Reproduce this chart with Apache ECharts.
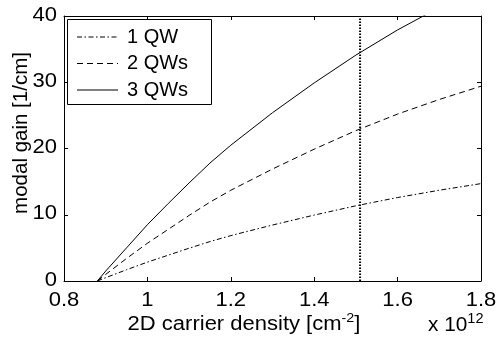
<!DOCTYPE html>
<html>
<head>
<meta charset="utf-8">
<script src="https://cdn.jsdelivr.net/npm/echarts@6/dist/echarts.min.js"></script>
<style>
  html, body { margin: 0; padding: 0; background: #fff; }
  #chart { width: 496px; height: 337px; }
</style>
</head>
<body>
<div id="chart"></div>
<script>
// 2D carrier density (units of 1e12 cm^-2)
const density = [0.88, 0.9, 0.95, 1.0, 1.05, 1.1, 1.15, 1.2, 1.3, 1.4, 1.5, 1.6, 1.7, 1.8];
// modal gain [1/cm] for 1, 2 and 3 quantum wells
const gain1QW = [0, 0.5, 1.7, 2.85, 3.9, 4.95, 5.95, 6.85, 8.45, 9.95, 11.35, 12.6, 13.7, 14.7];
const gain2QW = [0, 1.0, 3.4, 5.7, 7.8, 9.9, 11.9, 13.7, 16.9, 19.9, 22.7, 25.2, 27.4, 29.4];
const gain3QW = [0, 1.5, 5.0, 8.5, 11.7, 14.8, 17.8, 20.5, 25.4, 29.9, 34.1, 37.9, 41.3, 44.4];
// operating density marker
const markerDensity = 1.51;
const xTicks = [0.8, 1, 1.2, 1.4, 1.6, 1.8];
const yTicks = [0, 10, 20, 30, 40];
const seriesNames = ['1 QW', '2 QWs', '3 QWs'];

const FONT = 'Liberation Sans, Arial, Helvetica, sans-serif';
const FS = 20;
const WIDE = 1.1;   // horizontal stretch of the axis lettering

const DASH_1 = [5, 2.5, 1.5, 2.5];
const DASH_2 = [6, 4];
const DOTS = [1.5, 1.5];

const pairs = (xs, ys) => xs.map((x, i) => [x, ys[i]]);

const chart = echarts.init(document.getElementById('chart'), null, { renderer: 'canvas' });

const axisCommon = {
  type: 'value',
  axisLine: { show: true, onZero: false, lineStyle: { color: '#000', width: 1 } },
  axisTick: { show: true, inside: true, length: 4, lineStyle: { color: '#000' } },
  axisLabel: { show: false },
  splitLine: { show: false }
};
const xAxisBase = Object.assign({}, axisCommon, { min: xTicks[0], max: xTicks[xTicks.length - 1], interval: 0.2 });
const yAxisBase = Object.assign({}, axisCommon, { min: yTicks[0], max: yTicks[yTicks.length - 1], interval: 10 });

const lineSeries = (name, ys, dash) => ({
  name, type: 'line', data: pairs(density, ys),
  showSymbol: false, symbol: 'none', smooth: false,
  clip: true, animation: false,
  lineStyle: { color: '#000', width: 1, type: dash }
});

chart.setOption({
  animation: false,
  backgroundColor: '#fff',
  grid: { left: 64, right: 15, top: 16, bottom: 56 },
  xAxis: [
    Object.assign({}, xAxisBase, { position: 'bottom' }),
    Object.assign({}, xAxisBase, { position: 'top' })
  ],
  yAxis: [
    Object.assign({}, yAxisBase, { position: 'left' }),
    Object.assign({}, yAxisBase, { position: 'right' })
  ],
  series: [
    lineSeries(seriesNames[0], gain1QW, DASH_1),
    lineSeries(seriesNames[1], gain2QW, DASH_2),
    lineSeries(seriesNames[2], gain3QW, 'solid'),
    {
      name: 'marker', type: 'line', symbol: 'none', animation: false,
      data: [[markerDensity, yTicks[0]], [markerDensity, yTicks[yTicks.length - 1]]],
      lineStyle: { color: '#000', width: 2, type: DOTS }
    }
  ]
});

// Lettering: tick labels placed through the axis scales, titles, exponent, legend
const txt = (x, y, text, align, extra) => Object.assign({
  type: 'text', x, y, scaleX: WIDE, z: 10,
  style: { text, align, verticalAlign: 'middle', fontSize: FS, fontFamily: FONT, fill: '#000' }
}, extra || {});

const gfx = [];
xTicks.forEach(v => {
  const p = chart.convertToPixel({ xAxisIndex: 0, yAxisIndex: 0 }, [v, yTicks[0]]);
  gfx.push(txt(p[0], p[1] + 19, String(v), 'center'));
});
yTicks.forEach(v => {
  const p = chart.convertToPixel({ xAxisIndex: 0, yAxisIndex: 0 }, [xTicks[0], v]);
  gfx.push(txt(p[0] - 7, p[1] - 1, String(v), 'right'));
});

const rect = chart.getModel().getComponent('grid').coordinateSystem.getRect();
const base = { fontSize: FS, fontFamily: FONT, fill: '#000' };

gfx.push({
  type: 'text', x: 244, y: rect.y + rect.height + 43, scaleX: WIDE,
  style: {
    text: '{b|2D carrier density [cm}{s|-2}{b|]}', align: 'center', verticalAlign: 'middle',
    rich: { b: base, s: { fontSize: 13, fontFamily: FONT, fill: '#000', padding: [0, 0, 11, 0] } }
  }
});
gfx.push({
  type: 'text', x: 21, y: 133, rotation: Math.PI / 2,
  style: {
    text: 'modal gain [1/cm]', align: 'center', verticalAlign: 'middle',
    fontSize: 20.5, fontFamily: FONT, fill: '#000'
  }
});
gfx.push({
  type: 'text', x: 428, y: rect.y + rect.height + 44, scaleX: 1.04,
  style: {
    text: '{b|x 10}{s|12}', align: 'left', verticalAlign: 'middle',
    rich: { b: base, s: { fontSize: 14, fontFamily: FONT, fill: '#000', padding: [0, 0, 12, 0] } }
  }
});

// legend box
const lg = { x: 67.5, y: 19.5, w: 144, h: 85, lineX0: 77, lineX1: 118, textX: 127, rows: [37, 63.5, 90] };
gfx.push({
  type: 'rect', z: 5,
  shape: { x: lg.x, y: lg.y, width: lg.w, height: lg.h },
  style: { fill: '#fff', stroke: '#000', lineWidth: 1 }
});
const legendDash = [DASH_1, DASH_2, null];
seriesNames.forEach((name, i) => {
  const y = lg.rows[i];
  gfx.push({
    type: 'line', z: 6,
    shape: { x1: lg.lineX0, y1: y, x2: lg.lineX1, y2: y },
    style: { stroke: '#000', lineWidth: 1, lineDash: legendDash[i] }
  });
  gfx.push(txt(lg.textX, y, name, 'left', { scaleX: 1 }));
});

chart.setOption({ graphic: gfx });
</script>
</body>
</html>
